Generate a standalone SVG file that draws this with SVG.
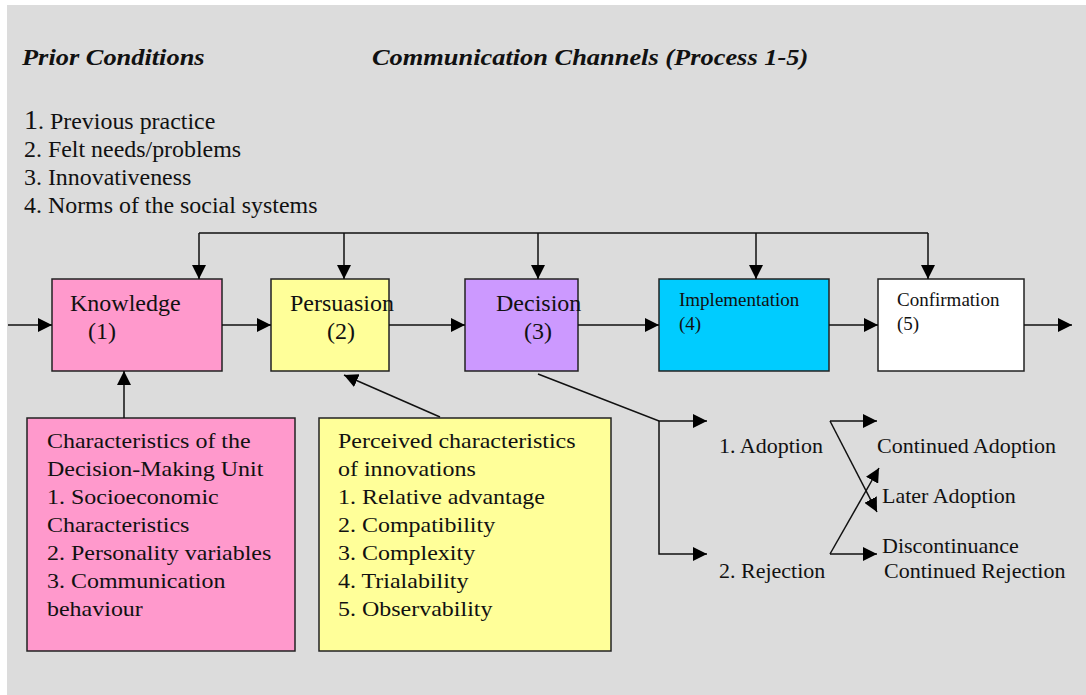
<svg xmlns="http://www.w3.org/2000/svg" width="1086" height="695" viewBox="0 0 1086 695">
<defs>
<style>
text{font-family:"Liberation Serif","Times New Roman",serif;fill:#111}
.t{font-size:22px}
.p{font-size:23px}
.l{font-size:24px}
.o{font-size:22px}
.s{font-size:19px}
.h{font-size:24px;font-weight:bold;font-style:italic}
.box{stroke:#222;stroke-width:1.5}
.ln{stroke:#111;stroke-width:1.5;fill:none}
</style>
<marker id="a" viewBox="0 0 10 10" refX="10" refY="5" markerWidth="14" markerHeight="14" markerUnits="userSpaceOnUse" orient="auto">
<path d="M0,0 L10,5 L0,10 z" fill="#000"/>
</marker>
</defs>
<rect x="0" y="0" width="1086" height="695" fill="#fff"/>
<rect x="7" y="5" width="1079" height="690" fill="#dcdcdc"/>

<g id="headers">
<g transform="translate(22,0) scale(1.1,1)"><text class="h" x="0" y="65">Prior Conditions</text></g>
<g transform="translate(372,0) scale(1.1,1)"><text class="h" x="0" y="65">Communication Channels (Process 1-5)</text></g>
<g transform="translate(24,0) scale(1.04,1)">
<text class="p" x="0" y="129"><tspan font-size="27">1</tspan>. Previous practice</text>
<text class="p" x="0" y="157">2.  Felt needs/problems</text>
<text class="p" x="0" y="185">3.  Innovativeness</text>
<text class="p" x="0" y="213">4. Norms of the social systems</text>
</g>
</g>

<g id="knowledge">
<rect class="box" x="52" y="279" width="170" height="92" fill="#ff99cc"/>
<text class="l" x="70" y="311">Knowledge</text><text class="l" x="88" y="339">(1)</text>
</g>
<g id="persuasion">
<rect class="box" x="271" y="279" width="118" height="92" fill="#ffff99"/>
<text class="l" x="290" y="311">Persuasion</text><text class="l" x="327" y="339">(2)</text>
</g>
<g id="decision">
<rect class="box" x="465" y="279" width="113" height="92" fill="#cc99ff"/>
<text class="l" x="496" y="311">Decision</text><text class="l" x="524" y="339">(3)</text>
</g>
<g id="implementation">
<rect class="box" x="659" y="279" width="170" height="92" fill="#00ccff"/>
<text class="s" x="679" y="306">Implementation</text><text class="s" x="679" y="330">(4)</text>
</g>
<g id="confirmation">
<rect class="box" x="878" y="279" width="146" height="92" fill="#ffffff"/>
<text class="s" x="897" y="306">Confirmation</text><text class="s" x="897" y="330">(5)</text>
</g>

<g id="decision-unit">
<rect class="box" x="27" y="418" width="268" height="233" fill="#ff99cc"/>
<g transform="translate(47,0) scale(1.09,1)">
<text class="t" x="0" y="448">Characteristics of the</text>
<text class="t" x="0" y="476">Decision-Making Unit</text>
<text class="t" x="0" y="504">1. Socioeconomic</text>
<text class="t" x="0" y="532">Characteristics</text>
<text class="t" x="0" y="560">2. Personality variables</text>
<text class="t" x="0" y="588">3. Communication</text>
<text class="t" x="0" y="616">behaviour</text>
</g>
</g>
<g id="perceived">
<rect class="box" x="319" y="418" width="292" height="233" fill="#ffff99"/>
<g transform="translate(338,0) scale(1.09,1)">
<text class="t" x="0" y="448">Perceived characteristics</text>
<text class="t" x="0" y="476">of innovations</text>
<text class="t" x="0" y="504">1. Relative advantage</text>
<text class="t" x="0" y="532">2. Compatibility</text>
<text class="t" x="0" y="560">3. Complexity</text>
<text class="t" x="0" y="588">4. Trialability</text>
<text class="t" x="0" y="616">5. Observability</text>
</g>
</g>

<g id="outcomes">
<text class="o" x="719" y="453">1. Adoption</text>
<text class="o" x="719" y="578">2. Rejection</text>
<text class="o" x="877" y="453">Continued Adoption</text>
<text class="o" x="882" y="503">Later Adoption</text>
<text class="o" x="882" y="553">Discontinuance</text>
<text class="o" x="884" y="578">Continued Rejection</text>
</g>

<g id="connectors">
<path class="ln" d="M199,233 H928"/>
<path class="ln" d="M199,233 V279" marker-end="url(#a)"/>
<path class="ln" d="M344,233 V279" marker-end="url(#a)"/>
<path class="ln" d="M538,233 V279" marker-end="url(#a)"/>
<path class="ln" d="M756,233 V279" marker-end="url(#a)"/>
<path class="ln" d="M928,233 V279" marker-end="url(#a)"/>
<path class="ln" d="M8,325 H52" marker-end="url(#a)"/>
<path class="ln" d="M222,325 H271" marker-end="url(#a)"/>
<path class="ln" d="M389,325 H465" marker-end="url(#a)"/>
<path class="ln" d="M578,325 H659" marker-end="url(#a)"/>
<path class="ln" d="M829,325 H878" marker-end="url(#a)"/>
<path class="ln" d="M1024,325 H1072" marker-end="url(#a)"/>
<path class="ln" d="M124,418 V371" marker-end="url(#a)"/>
<path class="ln" d="M440,417 L344,375" marker-end="url(#a)"/>
<path class="ln" d="M538,374 L659,421 H707" marker-end="url(#a)"/>
<path class="ln" d="M659,421 V554 H707" marker-end="url(#a)"/>
<path class="ln" d="M830,421 L877,512" marker-end="url(#a)"/>
<path class="ln" d="M830,421 H877" marker-end="url(#a)"/>
<path class="ln" d="M830,554 L879,468" marker-end="url(#a)"/>
<path class="ln" d="M830,554 H877" marker-end="url(#a)"/>
</g>
</svg>
